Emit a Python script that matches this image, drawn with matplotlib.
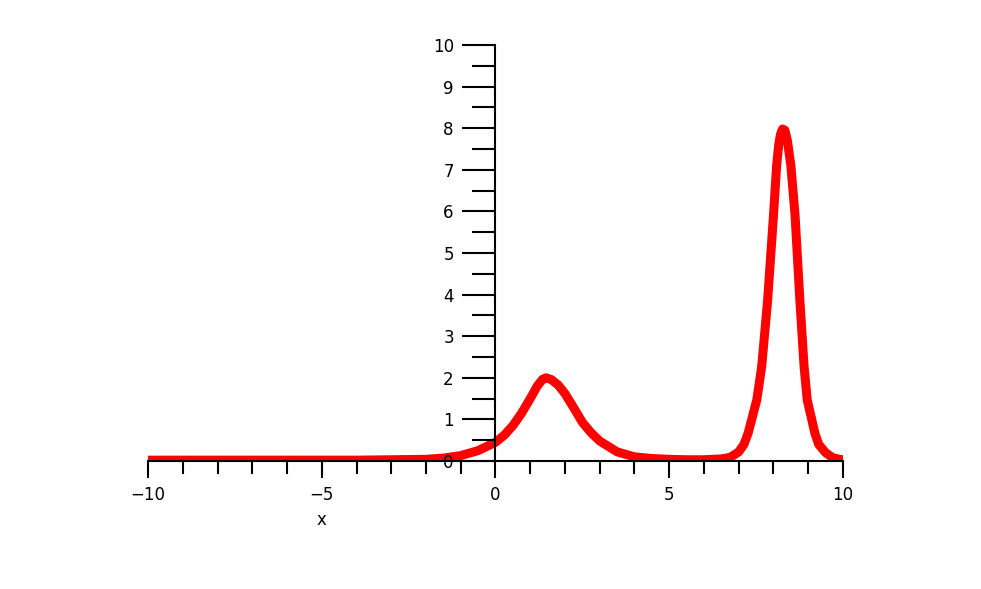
import matplotlib
matplotlib.use("Agg")
import matplotlib.pyplot as plt

# Values
x_vals = [-10, -8, -6, -4, -3, -2, -1.5, -1, -0.5, 0, 0.25, 0.5, 0.75, 1.0,
          1.2, 1.35, 1.45, 1.6, 1.8, 2.0, 2.25, 2.5, 2.75, 3.0, 3.5, 4.0, 4.5,
          5.0, 5.5, 6.0, 6.5, 6.76, 7.0, 7.15, 7.27, 7.52, 7.66, 7.83, 8.0,
          8.09, 8.15, 8.2, 8.26, 8.33, 8.4, 8.45, 8.5, 8.62, 8.76, 8.88, 8.97,
          9.19, 9.3, 9.5, 9.7, 9.91, 10]
y_vals = [0.02, 0.02, 0.02, 0.02, 0.03, 0.04, 0.07, 0.13, 0.25, 0.45, 0.62,
          0.85, 1.15, 1.5, 1.8, 1.96, 2.0, 1.96, 1.83, 1.62, 1.28, 0.93, 0.68,
          0.48, 0.22, 0.1, 0.06, 0.04, 0.03, 0.03, 0.05, 0.09, 0.22, 0.4,
          0.67, 1.47, 2.27, 3.85, 5.91, 7.1, 7.6, 7.85, 7.98, 7.95, 7.7, 7.4,
          7.1, 5.91, 3.85, 2.27, 1.47, 0.67, 0.4, 0.2, 0.08, 0.04, 0.03]

x_major = [-10, -5, 0, 5, 10]
x_major_labels = ["\u221210", "\u22125", "0", "5", "10"]
y_major = list(range(0, 11))

plt.rcParams['font.family'] = ['DejaVu Sans']

fig = plt.figure(figsize=(9.81, 5.89), dpi=100)
ax = fig.add_axes([148/981, 1 - 461/589, 695/981, 416/589])
ax.set_xlim(-10, 10)
ax.set_ylim(0, 10)

ax.plot(x_vals, y_vals, color='#ff0000', linewidth=6.5,
        solid_capstyle='round', solid_joinstyle='round', zorder=2)

ax.set_axisbelow(False)
for s in ['top', 'right']:
    ax.spines[s].set_visible(False)
ax.spines['left'].set_position(('data', 0))
ax.spines['bottom'].set_position(('data', 0))
ax.spines['left'].set_linewidth(1.5)
ax.spines['bottom'].set_linewidth(1.5)
ax.spines['left'].set_zorder(3)
ax.spines['bottom'].set_zorder(3)

ax.set_xticks(x_major)
ax.set_xticklabels(x_major_labels)
ax.set_xticks([v for v in range(-10, 11) if v not in x_major], minor=True)
ax.set_yticks(y_major)
ax.set_yticklabels([str(v) for v in y_major])
ax.set_yticks([v + 0.5 for v in range(0, 10)], minor=True)

ax.tick_params(axis='x', which='major', direction='out', length=12, width=1.5,
               pad=6, labelsize=12)
ax.tick_params(axis='x', which='minor', direction='out', length=9, width=1.5)
ax.tick_params(axis='y', which='major', direction='out', length=24, width=1.5,
               pad=6, labelsize=12)
ax.tick_params(axis='y', which='minor', direction='out', length=16.5, width=1.5)
ax.patch.set_alpha(0)

ax.text(-5, -1.42, 'x', ha='center', va='center', fontsize=12)

fig.savefig('out.png', dpi=100)
